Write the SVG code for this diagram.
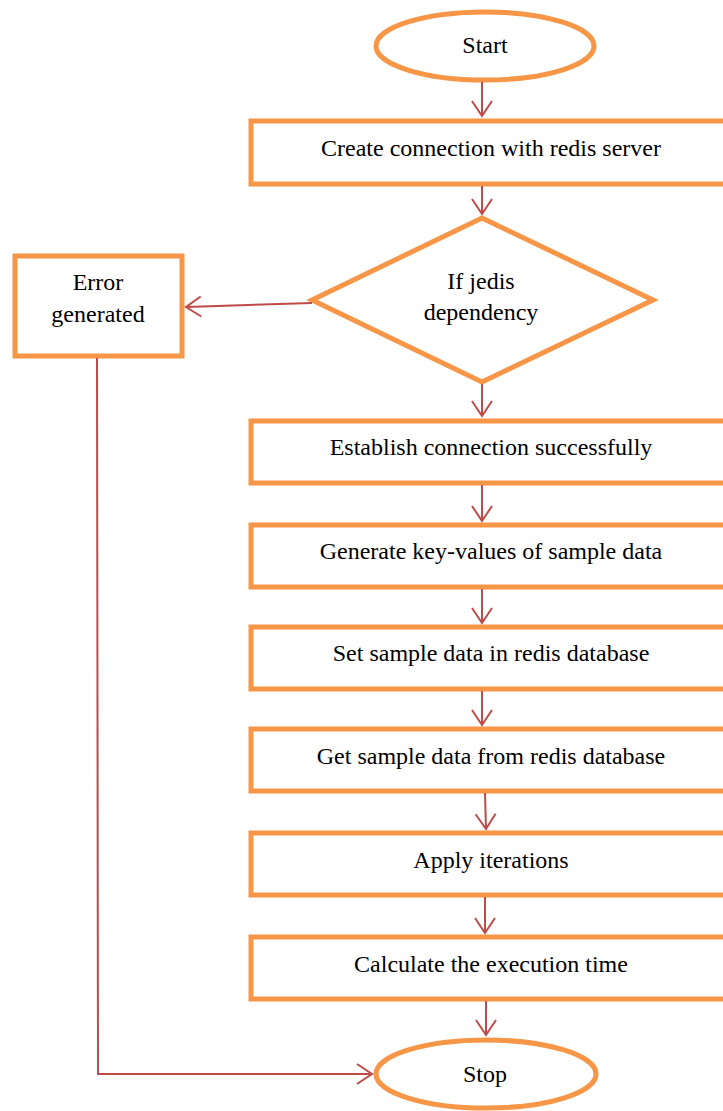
<svg xmlns="http://www.w3.org/2000/svg" width="723" height="1111" viewBox="0 0 723 1111">
  <style>
    .shape { fill: #ffffff; stroke: #F79646; stroke-width: 5; }
    .edge { fill: none; stroke: #BE4B48; stroke-width: 2; }
    .label { font-family: "Liberation Serif", "Times New Roman", serif; font-size: 24px; fill: #000000; text-anchor: middle; dominant-baseline: central; }
  </style>
  <defs>
    <marker id="arrow" markerUnits="userSpaceOnUse" markerWidth="24" markerHeight="24" refX="16" refY="10" orient="auto" overflow="visible">
      <path d="M1,0 L16,10 L1,20" fill="none" stroke="#BE4B48" stroke-width="2"/>
    </marker>
  </defs>
  <rect width="723" height="1111" fill="#ffffff"/>

  <g id="start">
    <ellipse class="shape" cx="485" cy="46" rx="109" ry="34" stroke-width="4.5"/>
    <text class="label" x="485" y="45">Start</text>
  </g>
  <g id="create-connection">
    <rect class="shape" x="251" y="121" width="480" height="63"/>
    <text class="label" x="491" y="148">Create connection with redis server</text>
  </g>
  <g id="jedis-check">
    <polygon class="shape" points="482,218 653,300 482,382 312,300"/>
    <text class="label" x="481" y="281">If jedis</text>
    <text class="label" x="481" y="312">dependency</text>
  </g>
  <g id="error">
    <rect class="shape" x="15" y="256" width="167" height="100"/>
    <text class="label" x="98" y="282">Error</text>
    <text class="label" x="98" y="314">generated</text>
  </g>
  <g id="establish">
    <rect class="shape" x="251" y="421" width="480" height="62"/>
    <text class="label" x="491" y="447">Establish connection successfully</text>
  </g>
  <g id="generate">
    <rect class="shape" x="251" y="525" width="480" height="62"/>
    <text class="label" x="491" y="551">Generate key-values of sample data</text>
  </g>
  <g id="set-data">
    <rect class="shape" x="251" y="627" width="480" height="62"/>
    <text class="label" x="491" y="653">Set sample data in redis database</text>
  </g>
  <g id="get-data">
    <rect class="shape" x="251" y="729" width="480" height="62"/>
    <text class="label" x="491" y="756">Get sample data from redis database</text>
  </g>
  <g id="iterate">
    <rect class="shape" x="251" y="833" width="480" height="62"/>
    <text class="label" x="491" y="860">Apply iterations</text>
  </g>
  <g id="exec-time">
    <rect class="shape" x="251" y="937" width="480" height="62"/>
    <text class="label" x="491" y="964">Calculate the execution time</text>
  </g>
  <g id="stop">
    <ellipse class="shape" cx="486" cy="1074" rx="110" ry="34" stroke-width="4.5"/>
    <text class="label" x="485" y="1074">Stop</text>
  </g>

  <g id="connectors">
    <line class="edge" x1="482" y1="82" x2="482" y2="116" marker-end="url(#arrow)"/>
    <line class="edge" x1="482" y1="186" x2="482" y2="214" marker-end="url(#arrow)"/>
    <line class="edge" x1="312" y1="303" x2="186" y2="307" marker-end="url(#arrow)"/>
    <line class="edge" x1="482" y1="384" x2="482" y2="416" marker-end="url(#arrow)"/>
    <line class="edge" x1="482" y1="485" x2="482" y2="521" marker-end="url(#arrow)"/>
    <line class="edge" x1="482" y1="589" x2="482" y2="623" marker-end="url(#arrow)"/>
    <line class="edge" x1="482" y1="691" x2="482" y2="725" marker-end="url(#arrow)"/>
    <line class="edge" x1="485" y1="793" x2="486" y2="829" marker-end="url(#arrow)"/>
    <line class="edge" x1="485" y1="897" x2="485" y2="933" marker-end="url(#arrow)"/>
    <line class="edge" x1="486" y1="1001" x2="486" y2="1035" marker-end="url(#arrow)"/>
    <polyline class="edge" points="97,358 98,1074 372,1074" marker-end="url(#arrow)"/>
  </g>
</svg>
